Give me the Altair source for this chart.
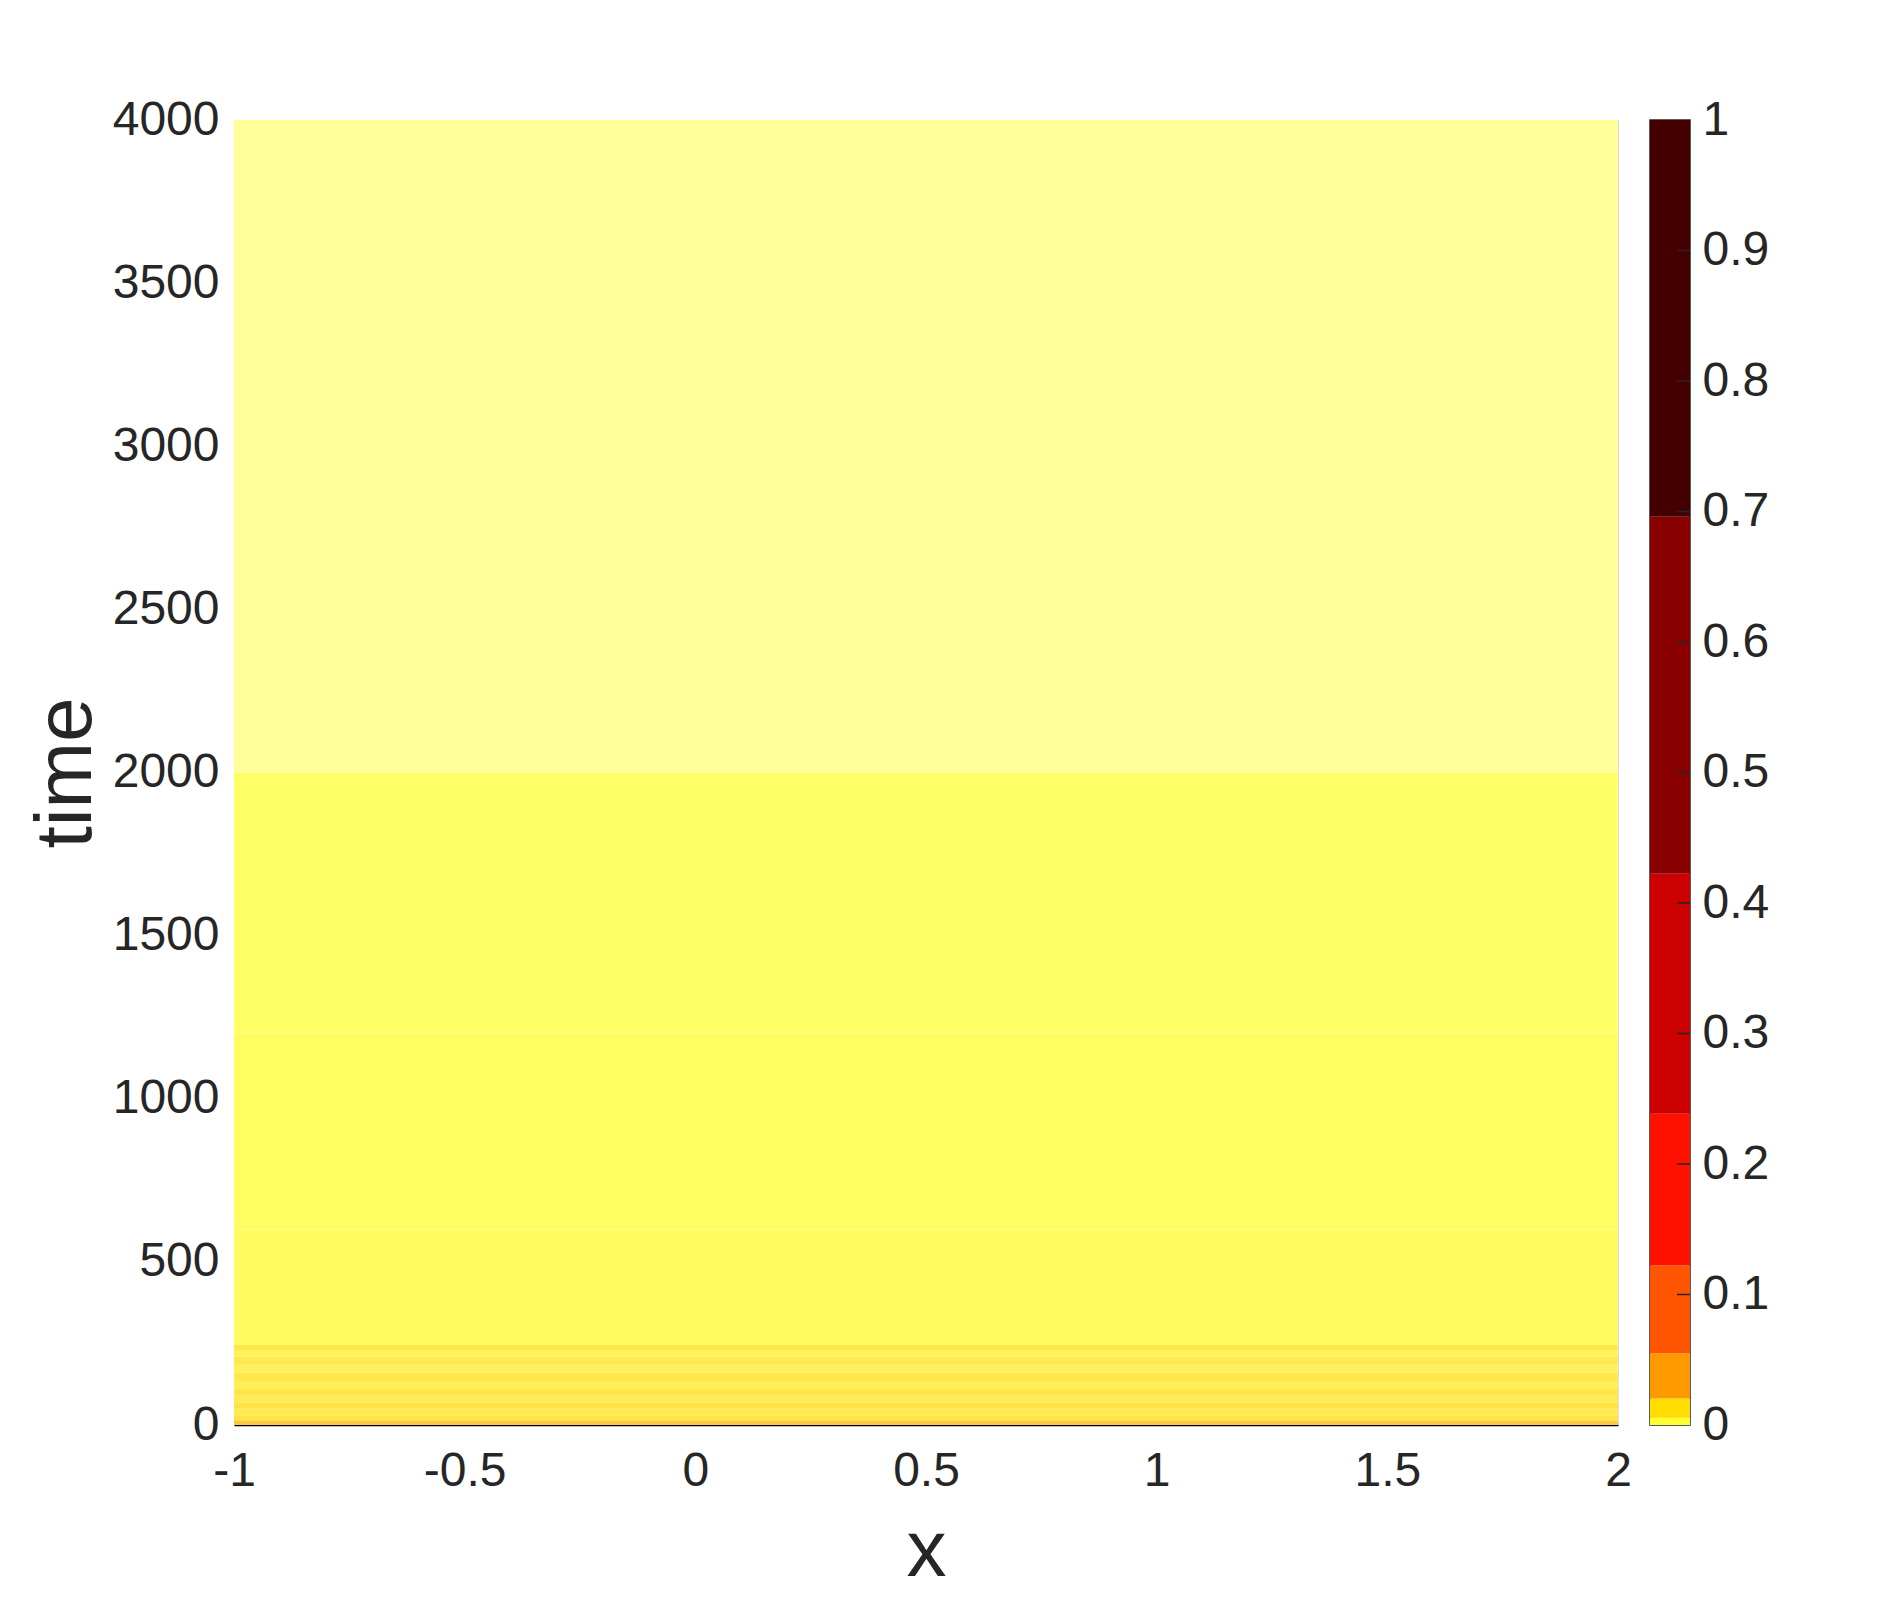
import altair as alt
import pandas as pd

# ---- heatmap data (time bands spanning the whole x range) ----
x_min = -1.0
x_max = 2.0
band_start = [0, 12, 30, 50, 70, 90, 110, 135, 160, 185, 210, 230, 245, 600, 1200, 2000]
band_end = [12, 30, 50, 70, 90, 110, 135, 160, 185, 210, 230, 245, 600, 1200, 2000, 4000]
band_color = ["#FFC44A", "#FFE445", "#FFEA50", "#FFE344", "#FFEC55", "#FFE648",
              "#FFEE58", "#FFE84C", "#FFF05C", "#FFE94E", "#FFF25E", "#FFE84A",
              "#FFFB60", "#FFFD62", "#FFFF66", "#FFFF99"]

# ---- colorbar data ----
cb_levels = [0, 0.0056, 0.0203, 0.0549, 0.1223, 0.2386, 0.4225, 0.696, 1.0]
cb_colors = ["#FFFF33", "#FFDD00", "#FF9900", "#FF5500", "#FF1100", "#CC0000", "#880000", "#440000"]
cb_ticks = [0, 0.1, 0.2, 0.3, 0.4, 0.5, 0.6, 0.7, 0.8, 0.9, 1]
cb_inner_ticks = [0.1, 0.2, 0.3, 0.4, 0.5, 0.6, 0.7, 0.8, 0.9]

x_ticks = [-1, -0.5, 0, 0.5, 1, 1.5, 2]
y_ticks = [0, 500, 1000, 1500, 2000, 2500, 3000, 3500, 4000]

FONT = "Liberation Sans"
TXT = "#262626"

heat_df = pd.DataFrame({
    "x0": [x_min] * len(band_start),
    "x1": [x_max] * len(band_start),
    "t0": band_start,
    "t1": band_end,
    "color": band_color,
})

cb_df = pd.DataFrame({
    "lo": cb_levels[:-1],
    "hi": cb_levels[1:],
    "color": cb_colors,
})
cb_tick_df = pd.DataFrame({"v": cb_inner_ticks})

main = alt.Chart(heat_df).mark_rect(strokeWidth=0).encode(
    x=alt.X("x0:Q",
            scale=alt.Scale(domain=[x_min, x_max], nice=False, zero=False),
            axis=alt.Axis(values=x_ticks, labelExpr="toString(datum.value)", title="x",
                          grid=False, ticks=False, tickSize=0, domain=True,
                          domainColor="#000000", domainWidth=1.5,
                          labelFontSize=48, labelPadding=22, labelColor=TXT, labelFont=FONT,
                          titleFontSize=80, titleFontWeight="normal", titlePadding=17,
                          titleColor=TXT, titleFont=FONT, labelFlush=False)),
    x2="x1:Q",
    y=alt.Y("t0:Q",
            scale=alt.Scale(domain=[0, 4000], nice=False, zero=True),
            axis=alt.Axis(values=y_ticks, labelExpr="toString(datum.value)", title="time",
                          grid=False, ticks=False, tickSize=0, domain=False,
                          labelFontSize=48, labelPadding=15, labelColor=TXT, labelFont=FONT,
                          titleFontSize=80, titleFontWeight="normal", titlePadding=5,
                          titleColor=TXT, titleFont=FONT, labelFlush=False)),
    y2="t1:Q",
    color=alt.Color("color:N", scale=None),
).properties(width=1384, height=1305,
             view=alt.ViewBackground(stroke="#DDDDDD", strokeWidth=1))

cb_rect = alt.Chart(cb_df).mark_rect(strokeWidth=0).encode(
    x=alt.value(0),
    x2=alt.value(40),
    y=alt.Y("lo:Q",
            scale=alt.Scale(domain=[0, 1], nice=False, zero=True),
            axis=alt.Axis(orient="right", values=cb_ticks, labelExpr="toString(datum.value)",
                          title=None, grid=False, ticks=False, tickSize=0, domain=False,
                          labelFontSize=48, labelPadding=12, labelColor=TXT, labelFont=FONT,
                          labelFlush=False)),
    y2="hi:Q",
    color=alt.Color("color:N", scale=None),
)

cb_tick = alt.Chart(cb_tick_df).mark_rule(color="#262626", strokeWidth=1.5).encode(
    x=alt.value(27),
    x2=alt.value(40),
    y=alt.Y("v:Q"),
)

cbar = alt.layer(cb_rect, cb_tick).properties(
    width=40, height=1305,
    view=alt.ViewBackground(stroke="#262626", strokeWidth=1.5))

chart = alt.hconcat(main, cbar, spacing=17).properties(
    padding={"left": 17, "top": 87, "right": 10, "bottom": 10},
    background="#FFFFFF",
).configure_view(strokeWidth=0)

chart.save("out.html", embed_options={"renderer": "svg", "actions": False})
